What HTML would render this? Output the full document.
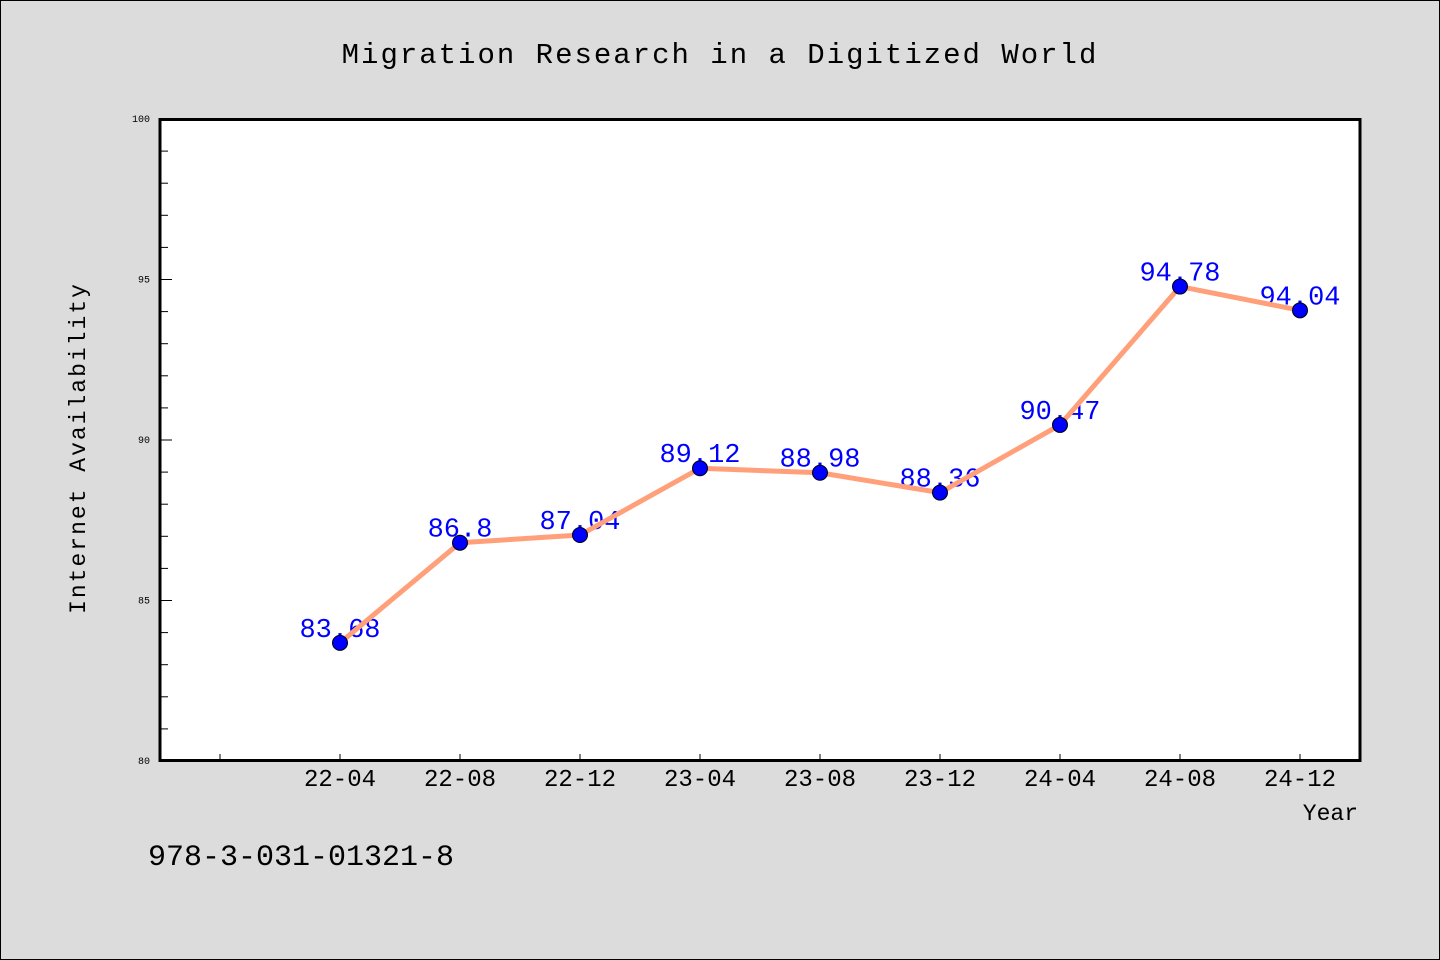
<!DOCTYPE html>
<html><head><meta charset="utf-8"><style>
body{margin:0;background:#dcdcdc}
svg{display:block}
text{font-family:"WenQuanYi Zen Hei","Liberation Mono",monospace}
</style></head><body>
<svg id="c" width="1440" height="960">
<rect x="0.5" y="0.5" width="1439" height="959" fill="#dcdcdc" stroke="#000"/>
<text x="720" y="63" text-anchor="middle" font-size="29" letter-spacing="2">Migration Research in a Digitized World</text>
<rect x="160" y="119.5" width="1200" height="641" fill="#fff" stroke="#000" stroke-width="3"/>
<text transform="translate(85,448) rotate(-90)" text-anchor="middle" font-size="23" letter-spacing="2">Internet Availability</text>
<text x="1358" y="820" text-anchor="end" font-size="23">Year</text>
<text x="148" y="865" font-size="30">978-3-031-01321-8</text>
<g id="ax"></g><g id="ln"></g><g id="pt"></g>
</svg>
<script>
const categories=["","22-04","22-08","22-12","23-04","23-08","23-12","24-04","24-08","24-12"];
const values=[null,83.68,86.8,87.04,89.12,88.98,88.36,90.47,94.78,94.04];
const valueLabels=["","83.68","86.8","87.04","89.12","88.98","88.36","90.47","94.78","94.04"];
const yTicks=[80,85,90,95,100];
const yMin=80,yMax=100;
const NS="http://www.w3.org/2000/svg";
const xs=i=>220+i*120;
const ys=v=>761-(v-yMin)/(yMax-yMin)*642;
function mk(t,a,p){const e=document.createElementNS(NS,t);for(const k in a)e.setAttribute(k,a[k]);p.appendChild(e);return e;}
const ax=document.getElementById('ax'),ln=document.getElementById('ln'),pt=document.getElementById('pt');
for(let v=yMin;v<=yMax;v++){
  const major=yTicks.includes(v);
  const l=mk('line',{x1:160,x2:major?172:168,y1:ys(v),y2:ys(v),stroke:'#000','stroke-width':1},ax);
  
  
}
yTicks.forEach(v=>{
  const t=mk('text',{x:150,y:ys(v)+3,'text-anchor':'end','font-size':10},ax);t.textContent=v;
  
  
});
categories.forEach((c,i)=>{
  const l=mk('line',{x1:xs(i),x2:xs(i),y1:754,y2:761,stroke:'#000','stroke-width':1},ax);
  
  
  if(c){const t=mk('text',{x:xs(i),y:786,'text-anchor':'middle','font-size':24},ax);t.textContent=c;
  
  }
});
const pts=[];
values.forEach((v,i)=>{if(v!=null)pts.push([xs(i),ys(v),i]);});
pts.forEach(([x,y,i])=>{
  const t=mk('text',{x:x,y:y-6,'text-anchor':'middle','font-size':27,fill:'#0000ff'},ln);t.textContent=valueLabels[i];
  
  
});
const pl=mk('polyline',{points:pts.map(p=>p[0]+','+p[1]).join(' '),fill:'none',stroke:'#ffa07a','stroke-width':5,'stroke-linejoin':'round'},ln);


pts.forEach(([x,y])=>{
  const c=mk('circle',{cx:x,cy:y,r:7.5,fill:'#0000ff',stroke:'#000','stroke-width':1},pt);
  
  
});
</script>
</body></html>
